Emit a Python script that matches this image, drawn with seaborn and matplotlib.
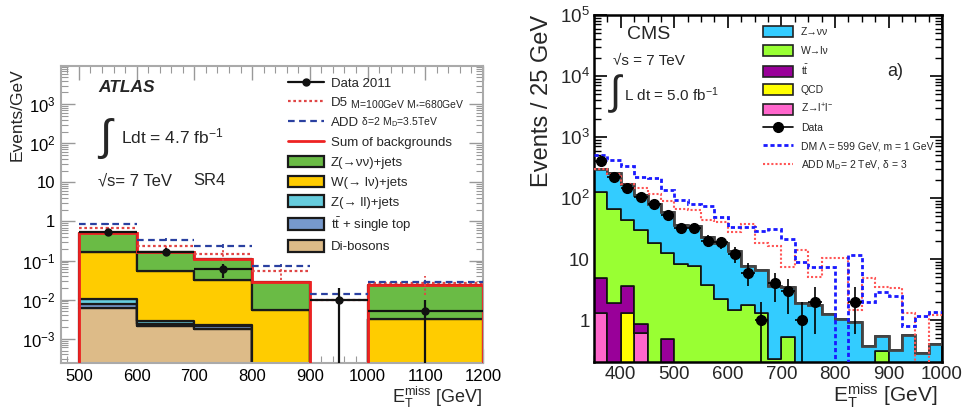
import numpy as np
import pandas as pd
import matplotlib
matplotlib.use("Agg")
import matplotlib.pyplot as plt
import seaborn as sns
from matplotlib.lines import Line2D
from matplotlib.patches import Patch
from matplotlib.ticker import MultipleLocator, LogLocator, NullFormatter

sns.set_style("ticks")
plt.rcParams['font.family'] = ['Liberation Sans', 'DejaVu Sans']
plt.rcParams['mathtext.fontset'] = 'custom'
plt.rcParams['mathtext.rm'] = 'Liberation Sans'
plt.rcParams['mathtext.it'] = 'Liberation Sans:italic'
plt.rcParams['mathtext.bf'] = 'Liberation Sans:bold'

# ---------------- ATLAS SR4 (left), events / GeV ----------------
atlas_edges = [500, 600, 700, 800, 900, 1000, 1200]
atlas_znn = [0.36, 0.115, 0.078, 0.0226, 0.0, 0.020]
atlas_wlv = [0.151, 0.052, 0.0297, 0.0054, 0.0, 0.003]
atlas_zll = [0.0028, 0.0004, 0.0002, 0.0, 0.0, 0.0]
atlas_top = [0.0018, 0.0003, 0.0003, 0.0, 0.0, 0.0]
atlas_dib = [0.0060, 0.0021, 0.0018, 0.0002, 0.0, 0.0002]
atlas_data = [0.53, 0.17, 0.06, 0.0, 0.01, 0.005]
atlas_data_err = [0.073, 0.041, 0.024, 0.0, 0.0099, 0.0049]
atlas_d5 = [0.68, 0.23, 0.15, 0.053, 0.010, 0.027]
atlas_d5_err = [0.05, 0.02, 0.05, 0.022, 0.0, 0.014]
atlas_add = [0.87, 0.34, 0.24, 0.074, 0.014, 0.028]
atlas_add_err = [0.06, 0.03, 0.03, 0.006, 0.0, 0.003]

atlas_names = ['Z(→νν)+jets', 'W(→ lν)+jets', 'Z(→ ll)+jets',
               r't$\bar{\mathregular{t}}$ + single top', 'Di-bosons']
atlas_colors = ['#6abb45', '#ffcc00', '#66ccdd', '#7799cc', '#ddbb88']

# ---------------- CMS (right), events / 25 GeV ----------------
cms_edges = list(range(350, 1001, 25))
cms_znn = [176, 187, 126, 84, 63, 45.5, 27.7, 27.3, 19.2, 15.8, 12.3, 5.9, 5.3,
           3.37, 2.92, 1.88, 1.76, 1.25, 1.04, 0.92, 0.38, 0.24, 0.32, 0.56, 0.29, 0.40]
cms_wlv = [119, 64, 40, 29, 18, 12, 8.3, 7.7, 3.8, 2.2, 1.46, 1.76, 1.29,
           0.23, 0.53, 0, 0, 0, 0, 0, 0, 0.31, 0, 0, 0, 0]
cms_tt = [3.6, 1.88, 2.3, 0.23, 0, 0.49] + [0] * 20
cms_qcd = [0, 0, 1.29] + [0] * 23
cms_zll = [1.29, 0, 0, 0.62] + [0] * 22
cms_data = [401, 220, 146, 104, 80, 53, 32, 32, 20, 19, 12, 6, 1,
            4, 3, 1, 2, 0, 0, 2, 0, 0, 0, 0, 0, 0]
cms_dm = [516, 418, 333, 220, 211, 133, 92, 80, 73, 48, 34, 33, 29,
          31, 21.5, 8.9, 7.4, 7.4, 0, 11.7, 2.0, 2.9, 2.5, 0.8, 1.18, 1.34]
cms_add = [294, 250, 170, 146, 117, 88, 66, 63, 43, 41, 28, 38, 18,
           16.5, 7.5, 14, 5.0, 10.5, 10.3, 1.46, 4.8, 3.5, 3.3, 1.29, 0, 1.2]

cms_names = ['Z→νν', 'W→lν', r't$\bar{\mathregular{t}}$', 'QCD', r'Z→l$^{+}$l$^{-}$']
cms_colors = ['#33ccff', '#99ff33', '#990099', '#ffff00', '#ff66cc']


def draw_stack(ax, edges, comps, names, colors, ec, lw):
    e = np.asarray(edges, float)
    centers = (e[:-1] + e[1:]) / 2
    rows = []
    for name, vals in zip(names, comps):
        for c, v in zip(centers, vals):
            rows.append({'x': float(c), 'w': float(v), 'proc': name})
    df = pd.DataFrame(rows)
    sns.histplot(data=df, x='x', weights='w', hue='proc', hue_order=names,
                 palette=dict(zip(names, colors)), multiple='stack',
                 bins=[float(v) for v in edges], element='step', alpha=1,
                 edgecolor=ec, linewidth=lw, legend=False, ax=ax)


fig = plt.figure(figsize=(9.67, 4.11), dpi=100)
ax1 = fig.add_axes([0.0631, 0.1168, 0.4364, 0.7226])
ax2 = fig.add_axes([0.6143, 0.1192, 0.3599, 0.8443])

# ======================= left panel =======================
ax1.set_yscale('log', nonpositive='clip')
draw_stack(ax1, atlas_edges,
           [atlas_znn, atlas_wlv, atlas_zll, atlas_top, atlas_dib],
           atlas_names, atlas_colors, '#1a1a1a', 1.6)
ae = np.asarray(atlas_edges, float)
acen = (ae[:-1] + ae[1:]) / 2
ahw = (ae[1:] - ae[:-1]) / 2
atot = np.sum([atlas_znn, atlas_wlv, atlas_zll, atlas_top, atlas_dib], axis=0)
ax1.stairs(atot, ae, baseline=1e-7, color='#ee2222', lw=2, zorder=4)

# signal models: horizontal segments per bin + dotted error bars
ax1.hlines(atlas_d5, ae[:-1], ae[1:], colors='#e04545', linestyles=(0, (1.2, 1.2)), lw=1.6, zorder=5)
eb = ax1.errorbar(acen, atlas_d5, yerr=atlas_d5_err, fmt='none', ecolor='#e04545', elinewidth=1.3, zorder=5)
eb[2][0].set_linestyle((0, (1.2, 1.2)))
ax1.hlines(atlas_add, ae[:-1], ae[1:], colors='#2a40a0', linestyles=(0, (3, 2)), lw=1.6, zorder=5)
eb = ax1.errorbar(acen, atlas_add, yerr=atlas_add_err, fmt='none', ecolor='#2a40a0', elinewidth=1.3, zorder=5)
eb[2][0].set_linestyle((0, (3, 2)))

ad = np.asarray(atlas_data)
m = ad > 0
ax1.errorbar(acen[m], ad[m], xerr=ahw[m], yerr=np.asarray(atlas_data_err)[m], fmt='o',
             color='#111111', ms=5, elinewidth=1.6, capsize=0, zorder=6)

ax1.set_xlim(469, 1200)
ax1.set_ylim(2.4e-4, 9.5e3)
ax1.set_xlabel('')
ax1.set_ylabel('')
ax1.xaxis.set_major_locator(MultipleLocator(100))
ax1.xaxis.set_minor_locator(MultipleLocator(20))
ax1.set_yticks([1e-3, 1e-2, 1e-1, 1, 10, 1e2, 1e3],
               [r'$10^{-3}$', r'$10^{-2}$', r'$10^{-1}$', '1', '10', r'$10^{2}$', r'$10^{3}$'])
ax1.yaxis.set_minor_locator(LogLocator(base=10, subs=np.arange(2, 10), numticks=20))
ax1.yaxis.set_minor_formatter(NullFormatter())
ax1.tick_params(which='both', direction='in', top=True, right=True,
                color='#999999', labelsize=12, labelcolor='black', pad=4)
ax1.tick_params(which='major', length=10, width=1)
ax1.tick_params(which='minor', length=5, width=0.8)
for s in ax1.spines.values():
    s.set_color('#aaaaaa')
    s.set_linewidth(1.5)

ax1.text(0.088, 0.929, 'ATLAS', transform=ax1.transAxes, fontsize=12.5,
         fontweight='bold', fontstyle='italic', va='center')
ax1.text(0.090, 0.757, '∫', transform=ax1.transAxes, fontsize=32, va='center',
         family=['Liberation Sans', 'DejaVu Sans'])
ax1.text(0.142, 0.764, r'Ldt = 4.7 fb$^{\mathregular{-1}}$', transform=ax1.transAxes,
         fontsize=12.5, va='center')
ax1.text(0.088, 0.613, '√s= 7 TeV', transform=ax1.transAxes, fontsize=12, va='center')
ax1.text(0.313, 0.613, 'SR4', transform=ax1.transAxes, fontsize=12, va='center')

h1 = [Line2D([0], [0], color='#111111', marker='o', ms=5, lw=1.6),
      Line2D([0], [0], color='#e04545', ls=(0, (1.2, 1.2)), lw=1.6),
      Line2D([0], [0], color='#2a40a0', ls=(0, (3, 2)), lw=1.6),
      Line2D([0], [0], color='#ee2222', lw=2)]
h1 += [Patch(facecolor=c, edgecolor='#1a1a1a', lw=1.6) for c in atlas_colors]
l1 = ['Data 2011', 'D5', 'ADD', 'Sum of backgrounds'] + atlas_names
leg1 = ax1.legend(h1, l1, loc='upper left', bbox_to_anchor=(0.538, 0.965), frameon=False,
                  fontsize=9.5, handlelength=2.7, handleheight=0.95, labelspacing=0.5,
                  handletextpad=0.55, borderpad=0, borderaxespad=0)

fig.text(0.018, 0.835, 'Events/GeV', rotation=90, ha='center', va='top', fontsize=12.5)
fig.text(0.499, 0.032, r'E$_{\mathregular{T}}^{\mathregular{miss}}$ [GeV]', ha='right',
         va='center', fontsize=13)

# ======================= right panel =======================
ax2.set_yscale('log', nonpositive='clip')
draw_stack(ax2, cms_edges, [cms_znn, cms_wlv, cms_tt, cms_qcd, cms_zll],
           cms_names, cms_colors, '#111111', 1.2)
ce = np.asarray(cms_edges, float)
ccen = (ce[:-1] + ce[1:]) / 2
ctot = np.sum([cms_znn, cms_wlv, cms_tt, cms_qcd, cms_zll], axis=0)
ax2.stairs(ctot, ce, baseline=None, color='#444444', lw=2, zorder=3)
ax2.stairs(cms_add, ce, baseline=None, color='#ff5555', ls=(0, (1, 1)), lw=1.5, zorder=4)
ax2.stairs(cms_dm, ce, baseline=None, color='#1a1aff', ls=(0, (1.5, 1)), lw=2, zorder=4)

cd = np.asarray(cms_data, float)
m = cd > 0
lo = np.minimum(np.sqrt(cd[m]), cd[m] * 0.999)
ax2.errorbar(ccen[m], cd[m], xerr=12.5, yerr=[lo, np.sqrt(cd[m])], fmt='o', color='black',
             ms=7, elinewidth=1.2, capsize=0, zorder=6)

ax2.set_xlim(350, 1000)
ax2.set_ylim(0.205, 1e5)
ax2.set_xlabel('')
ax2.set_ylabel('')
ax2.xaxis.set_major_locator(MultipleLocator(100))
ax2.xaxis.set_minor_locator(MultipleLocator(25))
ax2.set_yticks([1, 10, 1e2, 1e3, 1e4, 1e5],
               ['1', '10', r'$10^{2}$', r'$10^{3}$', r'$10^{4}$', r'$10^{5}$'])
ax2.yaxis.set_minor_locator(LogLocator(base=10, subs=np.arange(2, 10), numticks=20))
ax2.yaxis.set_minor_formatter(NullFormatter())
ax2.tick_params(which='both', direction='in', top=True, right=True, color='black',
                labelsize=13.5, pad=3)
ax2.tick_params(which='major', length=9, width=1.2)
ax2.tick_params(which='minor', length=5, width=1)
for s in ax2.spines.values():
    s.set_color('black')
    s.set_linewidth(1.8)

ax2.text(0.095, 0.944, 'CMS', transform=ax2.transAxes, fontsize=14, va='center')
ax2.text(0.055, 0.867, '√s = 7 TeV', transform=ax2.transAxes, fontsize=11, va='center')
ax2.text(0.046, 0.772, '∫', transform=ax2.transAxes, fontsize=29, va='center',
         family=['Liberation Sans', 'DejaVu Sans'])
ax2.text(0.085, 0.770, r'L dt = 5.0 fb$^{\mathregular{-1}}$', transform=ax2.transAxes,
         fontsize=11, va='center')
ax2.text(0.842, 0.836, 'a)', transform=ax2.transAxes, fontsize=13, va='center')

h2 = [Patch(facecolor=c, edgecolor='#222222', lw=1.2) for c in cms_colors]
h2 += [Line2D([0], [0], color='black', marker='o', ms=7, lw=1.2),
       Line2D([0], [0], color='#1a1aff', ls=(0, (1.5, 1)), lw=2),
       Line2D([0], [0], color='#ff5555', ls=(0, (1, 1)), lw=1.5)]
l2 = cms_names + ['Data', 'DM Λ = 599 GeV, m = 1 GeV', r'ADD M$_{\mathregular{D}}$= 2 TeV, δ = 3']
ax2.legend(h2, l2, loc='upper left', bbox_to_anchor=(0.486, 0.967), frameon=False,
           fontsize=7.5, handlelength=2.9, handleheight=1.25, labelspacing=0.68,
           handletextpad=0.7, borderpad=0, borderaxespad=0)

fig.text(0.5605, 0.9635, 'Events / 25 GeV', rotation=90, ha='center', va='top', fontsize=17)
fig.text(0.969, 0.022, r'E$_{\mathregular{T}}^{\mathregular{miss}}$ [GeV]', ha='right',
         va='baseline', fontsize=15)

# small-print parts of the ATLAS signal labels
fig.canvas.draw()
t = leg1.get_texts()
ax1.annotate(r' M=100GeV M$_{*}$=680GeV', xy=(1, 0), xycoords=t[1], va='bottom',
             ha='left', fontsize=7.5)
ax1.annotate(r' δ=2 M$_{\mathregular{D}}$=3.5TeV', xy=(1, 0), xycoords=t[2], va='bottom',
             ha='left', fontsize=7.5)

fig.savefig('out.png', dpi=100)
